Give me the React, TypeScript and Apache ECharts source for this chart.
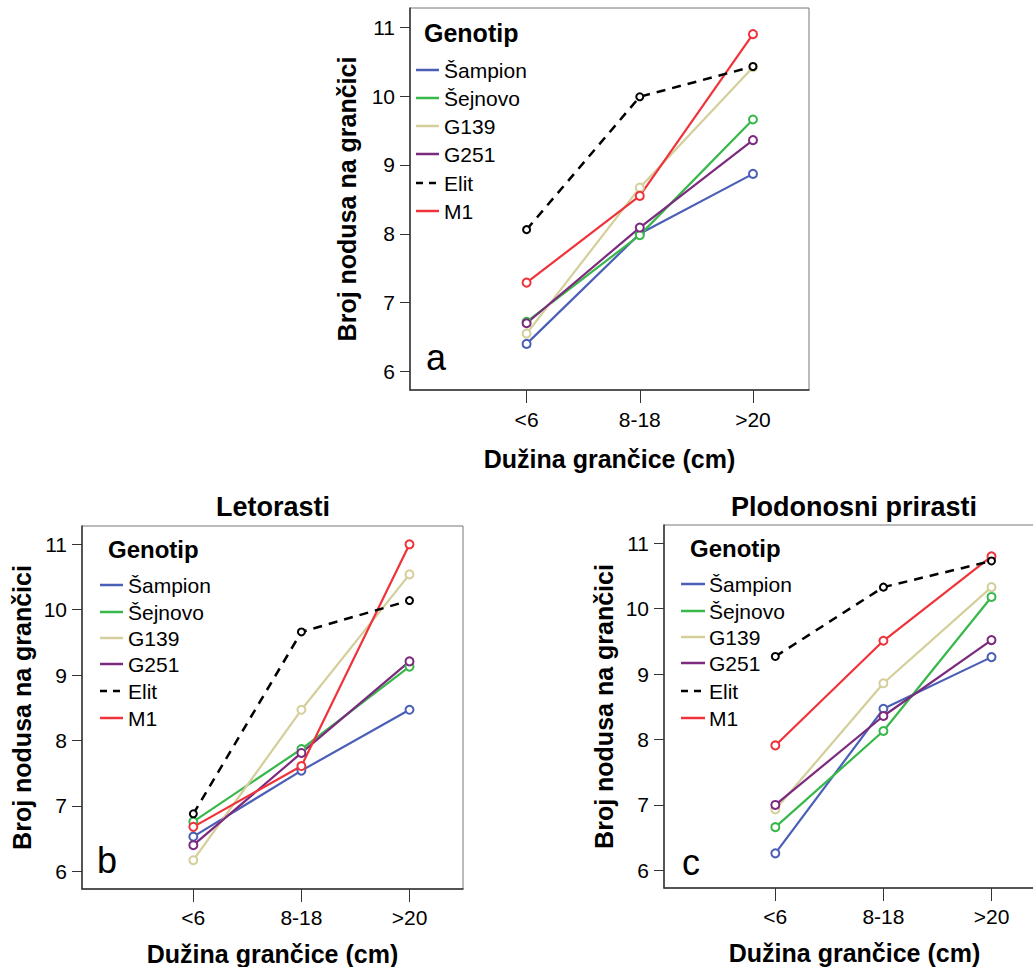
import React, { useEffect, useRef } from "react";
import * as echarts from "echarts";

const categories = ["<6", "8-18", ">20"];
const genotypes = ["Šampion", "Šejnovo", "G139", "G251", "Elit", "M1"];
const colors = ["#4a5fb5", "#38b84a", "#d4cf9a", "#7b2a7e", "#000000", "#f0333a"];
const yTicks = [6, 7, 8, 9, 10, 11];

// Chart a (overall)
const aSampion = [6.4, 8.0, 8.87];
const aSejnovo = [6.72, 7.98, 9.66];
const aG139 = [6.55, 8.67, 10.42];
const aG251 = [6.7, 8.09, 9.36];
const aElit = [8.06, 9.99, 10.43];
const aM1 = [7.29, 8.55, 10.9];

// Chart b (Letorasti)
const bSampion = [6.53, 7.54, 8.47];
const bSejnovo = [6.76, 7.87, 9.13];
const bG139 = [6.17, 8.47, 10.54];
const bG251 = [6.4, 7.81, 9.21];
const bElit = [6.88, 9.66, 10.14];
const bM1 = [6.68, 7.61, 11.0];

// Chart c (Plodonosni prirasti)
const cSampion = [6.26, 8.47, 9.26];
const cSejnovo = [6.66, 8.13, 10.18];
const cG139 = [6.93, 8.86, 10.33];
const cG251 = [7.0, 8.36, 9.52];
const cElit = [9.27, 10.33, 10.73];
const cM1 = [7.91, 9.51, 10.8];

const FONT = "'Liberation Sans', Arial, sans-serif";

export default function App() {
  const ref = useRef<HTMLDivElement>(null);
  useEffect(() => {
    if (!ref.current) return;
    const chart = echarts.init(ref.current, null, { renderer: "svg" });

    const panels = [
      { grid: { left: 410, top: 8, width: 399, height: 382 }, data: [aSampion, aSejnovo, aG139, aG251, aElit, aM1], xGap: 56, yGap: 51, xMargin: 19 },
      { grid: { left: 82, top: 526, width: 381, height: 363 }, data: [bSampion, bSejnovo, bG139, bG251, bElit, bM1], xGap: 52, yGap: 48, xMargin: 18 },
      { grid: { left: 664, top: 525, width: 381, height: 363 }, data: [cSampion, cSejnovo, cG139, cG251, cElit, cM1], xGap: 52, yGap: 48, xMargin: 18 },
    ];

    const grids: any[] = [];
    const xAxes: any[] = [];
    const yAxes: any[] = [];
    const series: any[] = [];

    panels.forEach((p, i) => {
      grids.push({ ...p.grid, show: true, borderColor: "#777", borderWidth: 1, containLabel: false });
      xAxes.push({
        type: "value",
        gridIndex: i,
        min: -1.03,
        max: 2.495,
        name: "Dužina grančice (cm)",
        nameLocation: "middle",
        nameGap: p.xGap,
        nameTextStyle: { fontFamily: FONT, fontSize: 25, fontWeight: "bold", color: "#000" },
        axisLine: { show: true, onZero: false, lineStyle: { color: "#333", width: 1.5 } },
        axisTick: { show: true, length: 13, inside: false, customValues: [0, 1, 2], lineStyle: { color: "#333", width: 1 } },
        axisLabel: {
          customValues: [0, 1, 2],
          formatter: (v: number) => categories[Math.round(v)] ?? "",
          fontFamily: FONT,
          fontSize: 21,
          color: "#000",
          margin: p.xMargin,
        },
        splitLine: { show: false },
      });
      yAxes.push({
        type: "value",
        gridIndex: i,
        min: 5.73,
        max: 11.28,
        name: "Broj nodusa na grančici",
        nameLocation: "middle",
        nameGap: p.yGap,
        nameTextStyle: { fontFamily: FONT, fontSize: 25, fontWeight: "bold", color: "#000" },
        axisLine: { show: true, onZero: false, lineStyle: { color: "#333", width: 1.5 } },
        axisTick: { show: true, length: 10, inside: false, customValues: yTicks, lineStyle: { color: "#333", width: 1 } },
        axisLabel: {
          customValues: yTicks,
          fontFamily: FONT,
          fontSize: 21,
          color: "#000",
          margin: 15,
        },
        splitLine: { show: false },
      });
      p.data.forEach((vals, k) => {
        const isElit = genotypes[k] === "Elit";
        series.push({
          type: "line",
          name: genotypes[k],
          xAxisIndex: i,
          yAxisIndex: i,
          data: vals.map((v, j) => [j, v]),
          symbol: "emptyCircle",
          symbolSize: isElit ? 7 : 8,
          showSymbol: true,
          itemStyle: { color: colors[k], borderWidth: isElit ? 2.5 : 1.5 },
          lineStyle: { color: colors[k], width: isElit ? 2.5 : 2.2, type: isElit ? [9, 7] : "solid" },
          z: isElit ? 3 : 2,
        });
      });
    });

    const legendSpecs = [
      { titleX: 424, titleY: 33, titleSize: 25, x1: 416, x2: 439, tx: 444, ys: [70, 98, 126, 154, 183, 211] },
      { titleX: 108, titleY: 549, titleSize: 24, x1: 100, x2: 123, tx: 128, ys: [585, 612, 638, 664, 691, 718] },
      { titleX: 690, titleY: 548, titleSize: 24, x1: 681, x2: 705, tx: 709, ys: [584, 611, 637, 663, 691, 718] },
    ];

    const graphics: any[] = [];
    legendSpecs.forEach((l) => {
      graphics.push({
        type: "text",
        x: l.titleX,
        y: l.titleY,
        style: { text: "Genotip", fontFamily: FONT, fontSize: l.titleSize, fontWeight: "bold", fill: "#000", align: "left", verticalAlign: "middle" },
      });
      genotypes.forEach((g, k) => {
        const isElit = g === "Elit";
        graphics.push({
          type: "line",
          shape: { x1: l.x1, y1: l.ys[k], x2: l.x2, y2: l.ys[k] },
          style: { stroke: colors[k], lineWidth: 2.5, lineDash: isElit ? [7, 6] : null },
        });
        graphics.push({
          type: "text",
          x: l.tx,
          y: l.ys[k],
          style: { text: g, fontFamily: FONT, fontSize: 21, fill: "#000", align: "left", verticalAlign: "middle" },
        });
      });
    });

    const letters = [
      { t: "a", x: 426, y: 357 },
      { t: "b", x: 97, y: 860 },
      { t: "c", x: 682, y: 862 },
    ];
    letters.forEach((L) => {
      graphics.push({
        type: "text",
        x: L.x,
        y: L.y,
        style: { text: L.t, fontFamily: FONT, fontSize: 36, fill: "#000", align: "left", verticalAlign: "middle" },
      });
    });

    const titles = [
      { t: "Letorasti", x: 273, y: 507 },
      { t: "Plodonosni prirasti", x: 854, y: 507 },
    ];
    titles.forEach((T) => {
      graphics.push({
        type: "text",
        x: T.x,
        y: T.y,
        style: { text: T.t, fontFamily: FONT, fontSize: 27, fontWeight: "bold", fill: "#000", align: "center", verticalAlign: "middle" },
      });
    });

    chart.setOption({
      animation: false,
      backgroundColor: "#ffffff",
      textStyle: { fontFamily: FONT },
      grid: grids,
      xAxis: xAxes,
      yAxis: yAxes,
      series,
      graphic: graphics,
    });

    return () => chart.dispose();
  }, []);

  return (
    <div style={{ position: "fixed", left: 0, top: 0, width: 1033, height: 967, overflow: "hidden", background: "#fff" }}>
      <div
        ref={ref}
        style={{ position: "absolute", left: 0, top: 0, width: 1050, height: 967, background: "#fff" }}
      />
    </div>
  );
}
